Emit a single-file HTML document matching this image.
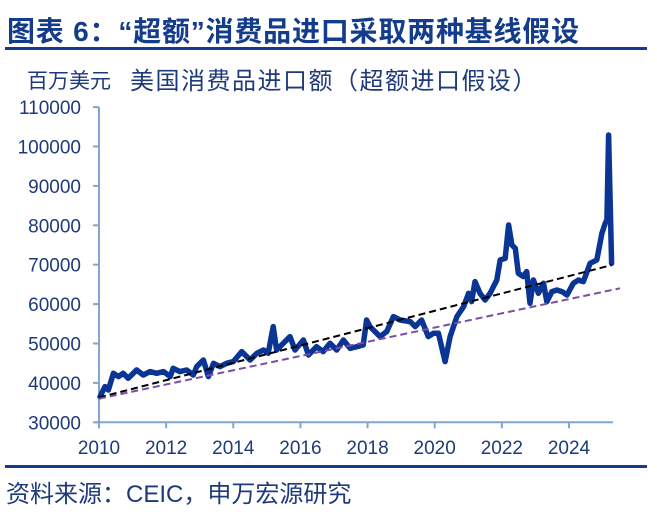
<!DOCTYPE html>
<html><head><meta charset="utf-8"><style>
body{margin:0;background:#fff;width:657px;height:515px;overflow:hidden;font-family:"Liberation Sans","Noto Sans CJK SC",sans-serif}
</style></head><body>
<svg width="657" height="515" xmlns="http://www.w3.org/2000/svg" style="font-family:'Liberation Sans','Noto Sans CJK SC',sans-serif">
<text x="7" y="41" font-size="28" font-weight="bold" letter-spacing="0.8" fill="#143c8c">图表 6：“超额”消费品进口采取两种基线假设</text>
<rect x="5" y="47" width="642" height="3" fill="#143c8c"/>
<text x="27" y="88" font-size="21" fill="#1f3a7a">百万美元</text>
<text x="130" y="89" font-size="24" letter-spacing="1.5" fill="#1f3a7a">美国消费品进口额（超额进口假设）</text>
<g id="axes"></g>
<g id="marks"></g>
<rect x="5" y="465" width="642" height="3" fill="#143c8c"/>
<text x="6" y="502" font-size="24" fill="#1f3a7a">资料来源：CEIC，申万宏源研究</text>
</svg>
<script>
const yTicks=[30000,40000,50000,60000,70000,80000,90000,100000,110000];
const xTicks=[2010,2012,2014,2016,2018,2020,2022,2024];
const years=[2010.03,2010.18,2010.28,2010.43,2010.58,2010.72,2010.87,2011.12,2011.32,2011.52,2011.72,2011.92,2012.12,2012.21,2012.41,2012.61,2012.81,2012.91,2013.11,2013.26,2013.41,2013.60,2013.80,2014.00,2014.25,2014.50,2014.70,2014.90,2015.04,2015.19,2015.29,2015.49,2015.69,2015.84,2016.09,2016.24,2016.48,2016.68,2016.88,2017.08,2017.28,2017.48,2017.68,2017.87,2017.97,2018.07,2018.37,2018.57,2018.77,2018.97,2019.27,2019.42,2019.61,2019.81,2019.96,2020.11,2020.31,2020.46,2020.66,2020.86,2021.01,2021.10,2021.20,2021.35,2021.50,2021.65,2021.85,2021.95,2022.10,2022.20,2022.30,2022.40,2022.49,2022.64,2022.74,2022.84,2022.94,2023.09,2023.24,2023.34,2023.49,2023.64,2023.79,2023.94,2024.13,2024.28,2024.43,2024.63,2024.83,2024.98,2025.08,2025.13,2025.18,2025.27];
const imports=[36500,39050,38200,42440,41600,42440,41170,43280,42010,42860,42440,42860,41590,43710,42860,43280,42010,44130,45820,41590,44970,44130,44970,45400,47940,45820,47510,48360,47510,54280,48360,50050,51740,48360,50900,47090,49200,47940,50050,48360,50900,48780,49200,49630,55970,54280,51740,53010,56820,55970,55550,54280,55970,51740,52590,52590,45400,51740,56820,59360,62740,60630,65700,62740,61050,62740,66120,71200,71620,80080,75010,74160,67820,66970,68240,60200,66120,62740,65280,60630,63160,63590,63160,62320,65280,66120,65700,70350,71200,77970,80500,81350,102930,70350];
const baseA_years=[2010.0,2025.27];
const baseA_vals=[36300,69900];
const baseB_years=[2010.0,2025.52];
const baseB_vals=[36000,64000];
const X0=99,PX_YR=33.57,Y0=422.3,PX_V=0.00394;
function xs(t){return X0+(t-2010)*PX_YR;}
function ys(v){return Y0-(v-30000)*PX_V;}
const NS='http://www.w3.org/2000/svg';
const axes=document.getElementById('axes'),marks=document.getElementById('marks');
function mk(tag,attrs,parent){const e=document.createElementNS(NS,tag);for(const k in attrs)e.setAttribute(k,attrs[k]);parent.appendChild(e);return e;}
const ac='#7fa7d0';
let e=mk('line',{x1:X0,y1:ys(110000),x2:X0,y2:Y0,stroke:ac,'stroke-width':2},axes);


e=mk('line',{x1:X0-4,y1:Y0,x2:613,y2:Y0,stroke:ac,'stroke-width':2},axes);


yTicks.forEach(v=>{
  const y=ys(v);
  let t=mk('line',{x1:X0-6,y1:y,x2:X0,y2:y,stroke:ac,'stroke-width':2},axes);
  
  
  let l=mk('text',{x:X0-18,y:y+7,'font-size':19,fill:'#1f3a7a','text-anchor':'end'},axes);
  l.textContent=v;
  
  
});
xTicks.forEach(t0=>{
  const x=xs(t0);
  let t=mk('line',{x1:x,y1:Y0,x2:x,y2:Y0+6,stroke:ac,'stroke-width':2},axes);
  
  
  let l=mk('text',{x:x,y:454,'font-size':19,fill:'#1f3a7a','text-anchor':'middle'},axes);
  l.textContent=t0;
  
  
});
function pts(ta,va){return ta.map((t,i)=>xs(t).toFixed(1)+','+ys(va[i]).toFixed(1)).join(' ');}
e=mk('polyline',{points:pts(years,imports),fill:'none',stroke:'#0a3595','stroke-width':5.5,'stroke-linejoin':'round','stroke-linecap':'round'},marks);


e=mk('polyline',{points:pts(baseA_years,baseA_vals),fill:'none',stroke:'#000','stroke-width':2,'stroke-dasharray':'7,4'},marks);


e=mk('polyline',{points:pts(baseB_years,baseB_vals),fill:'none',stroke:'#7a4ea6','stroke-width':2,'stroke-dasharray':'7,4'},marks);


</script>
</body></html>
